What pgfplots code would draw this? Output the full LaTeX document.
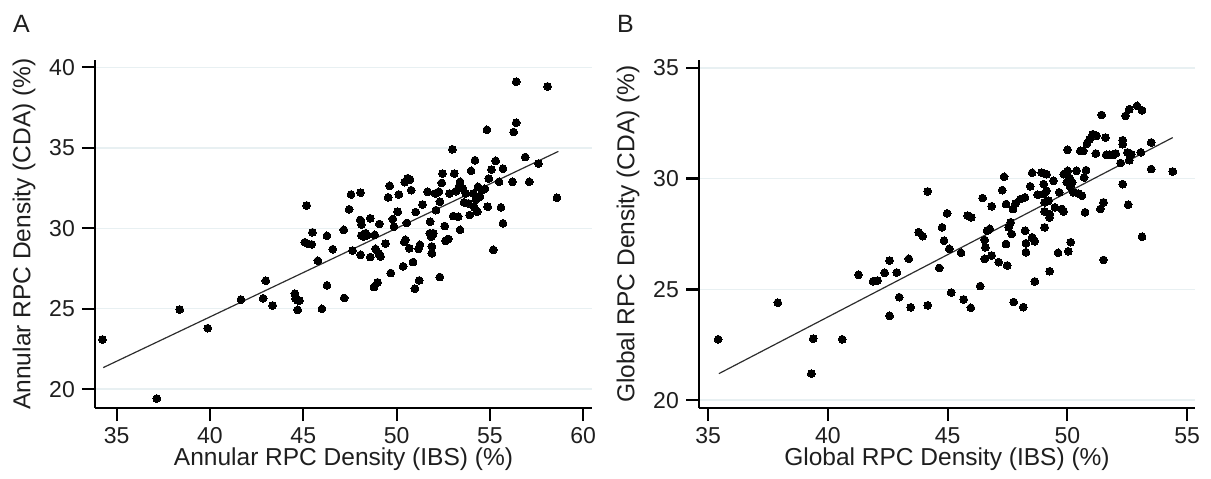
\documentclass[border=0pt]{standalone}
\usepackage{fontspec}
\setmainfont{Liberation Sans}
\usepackage{pgfplots}
\usepackage{pgfplotstable}
\pgfplotsset{compat=1.18}

\definecolor{gridc}{RGB}{232,240,242}
\definecolor{txt}{RGB}{30,30,30}
\definecolor{fitc}{RGB}{45,45,45}

% Annular RPC density, IBS vs CDA
\pgfplotstableread{
x y
34.24 23.09
37.15 19.42
38.38 24.95
39.88 23.79
41.66 25.57
42.99 26.74
42.85 25.65
43.36 25.20
44.55 25.94
44.59 25.63
44.70 25.52
44.80 25.50
44.70 24.93
45.18 31.42
45.08 29.13
45.25 29.03
45.45 29.00
45.49 29.75
45.78 27.98
46.00 24.99
46.27 29.53
46.27 26.45
46.58 28.70
47.17 29.90
47.19 25.67
47.46 31.18
47.56 32.10
47.64 28.62
48.07 32.21
48.05 30.52
48.11 30.23
48.11 29.55
48.07 28.35
48.22 29.48
48.34 29.69
48.42 29.57
48.59 30.62
48.59 28.21
48.83 29.59
48.87 28.72
49.04 28.45
49.08 30.27
48.79 26.35
48.98 26.64
49.14 28.25
49.41 29.05
49.55 31.92
49.63 32.64
49.69 27.22
49.80 30.58
49.86 30.10
50.06 31.03
50.12 32.10
50.35 27.63
50.43 32.87
50.55 30.33
50.41 29.15
50.47 29.28
50.59 33.11
50.72 33.03
50.68 28.76
50.78 32.37
50.88 27.90
51.02 31.01
50.98 26.25
51.17 28.72
51.25 28.97
51.21 26.76
51.39 31.48
51.66 32.27
51.80 30.41
51.78 29.69
51.86 29.48
51.89 28.87
51.89 28.45
51.97 29.69
52.07 32.16
52.11 31.13
52.27 32.27
52.32 31.65
52.32 26.97
52.42 32.82
52.46 33.40
52.58 30.14
52.62 29.22
52.77 29.34
52.83 32.16
52.99 34.91
53.03 30.76
53.09 33.40
53.18 32.31
53.30 30.72
53.34 32.58
53.40 29.90
53.40 32.89
53.55 32.47
53.61 31.61
53.71 32.16
53.85 31.55
53.91 30.82
53.99 33.57
54.12 32.16
54.16 31.30
54.20 34.23
54.26 31.79
54.32 31.03
54.36 32.58
54.47 31.96
54.57 32.37
54.73 32.45
54.84 36.12
54.88 31.34
54.94 33.09
55.08 33.65
55.18 28.66
55.31 34.19
55.49 32.89
55.59 31.30
55.70 33.71
55.70 30.31
56.21 32.89
56.27 35.98
56.41 36.56
56.41 39.11
56.89 34.43
57.11 32.89
57.60 34.02
58.09 38.82
58.59 31.90
}\annulartab

% Global RPC density, IBS vs CDA
\pgfplotstableread{
x y
35.42 22.75
37.91 24.40
39.39 22.78
39.31 21.20
40.60 22.75
41.28 25.66
41.89 25.37
42.08 25.40
42.37 25.75
42.58 26.30
42.58 23.81
42.88 25.76
42.98 24.65
43.38 26.38
43.46 24.19
43.79 27.58
43.96 27.40
44.17 29.42
44.17 24.28
44.65 25.97
44.77 27.80
44.85 27.20
44.98 28.43
45.07 26.83
45.15 24.86
45.56 26.65
45.67 24.55
45.84 28.33
45.99 28.25
45.97 24.17
46.36 25.15
46.46 29.12
46.55 27.23
46.58 26.90
46.55 26.38
46.65 27.65
46.76 27.73
46.84 28.75
46.84 26.53
47.13 26.23
47.28 29.48
47.36 30.08
47.44 28.85
47.44 27.05
47.49 26.08
47.55 27.80
47.63 28.03
47.68 27.50
47.73 28.63
47.76 24.43
47.84 28.88
48.05 29.08
48.16 24.20
48.23 29.15
48.24 27.65
48.27 27.08
48.27 26.68
48.45 29.65
48.53 30.26
48.53 27.35
48.64 27.17
48.64 25.36
48.76 29.27
48.93 30.27
49.01 29.75
49.01 29.30
49.05 28.93
49.05 28.52
49.05 27.80
49.13 30.20
49.13 29.45
49.21 29.00
49.26 28.40
49.26 28.25
49.26 25.82
49.42 29.90
49.48 28.70
49.61 26.65
49.66 29.38
49.77 28.63
49.84 28.52
49.85 30.20
49.98 29.83
50.01 31.30
50.01 30.35
50.04 26.72
50.09 30.03
50.12 29.63
50.14 27.13
50.20 29.83
50.25 29.38
50.38 30.35
50.46 29.33
50.54 31.25
50.61 29.23
50.66 31.25
50.70 30.05
50.74 28.48
50.78 30.38
50.82 31.58
50.93 31.78
51.06 32.00
51.19 31.13
51.22 31.93
51.38 28.63
51.43 32.87
51.51 28.93
51.51 26.33
51.59 31.85
51.62 31.07
51.78 31.07
51.94 31.07
52.02 31.13
52.22 30.70
52.31 31.73
52.31 31.55
52.31 29.75
52.43 32.83
52.51 31.18
52.54 28.82
52.59 33.13
52.59 30.83
52.67 31.10
52.91 33.28
53.07 31.18
53.12 33.08
53.12 27.38
53.50 30.43
53.50 31.63
54.40 30.32
}\globaltab

\pgfplotsset{
  stata/.style={
    scale only axis,
    anchor=south west,
    axis x line*=bottom,
    axis y line*=left,
    axis line style={-, line width=2.2pt, black},
    tick align=outside,
    major tick length=13pt,
    tick style={line width=2.2pt, black},
    ymajorgrids,
    major grid style={gridc, line width=1.5pt},
    /pgf/number format/assume math mode=true,
    tick label style={font=\fontsize{23}{26}\selectfont, text=txt},
    label style={font=\fontsize{24.5}{28}\selectfont, text=txt},
    xticklabel style={inner sep=0pt, anchor=north, yshift=-6pt},
    yticklabel style={inner sep=0pt, anchor=east, xshift=-7pt},
    xlabel style={at={(axis description cs:0.5,0)}, anchor=north, yshift=-40pt, inner sep=0pt},
    ylabel style={at={(axis description cs:0,0.5)}, anchor=center, yshift=71pt, inner sep=0pt},
    clip=false,
  },
  dots/.style={only marks, mark=*, mark size=3.9pt, mark options={fill=black, draw=black, line width=0pt}},
  fit/.style={fitc, line width=1.2pt, no marks},
}

\begin{document}
\begin{tikzpicture}
\useasboundingbox (0,0) rectangle (1211pt,479pt);

\node[anchor=base west, inner sep=0pt, font=\fontsize{25}{28}\selectfont, text=txt] at (13pt,446pt) {A};
\node[anchor=base west, inner sep=0pt, font=\fontsize{25}{28}\selectfont, text=txt] at (617pt,446pt) {B};

\begin{axis}[stata,
    at={(95pt,71pt)},
    width=497pt, height=348pt,
    xmin=33.84, xmax=60.47,
    ymin=18.83, ymax=40.46,
    xtick={35,40,45,50,55,60},
    ytick={20,25,30,35,40},
    xlabel={Annular RPC Density (IBS) (\%)},
    ylabel={Annular RPC Density (CDA) (\%)},
]
\addplot[dots] table {\annulartab};
\addplot[fit] coordinates {(34.28,21.34) (58.67,34.78)};
\end{axis}

\begin{axis}[stata,
    at={(699pt,71pt)},
    width=496pt, height=348pt,
    xmin=34.62, xmax=55.33,
    ymin=19.65, ymax=35.35,
    xtick={35,40,45,50,55},
    ytick={20,25,30,35},
    xlabel={Global RPC Density (IBS) (\%)},
    ylabel={Global RPC Density (CDA) (\%)},
]
\addplot[dots] table {\globaltab};
\addplot[fit] coordinates {(35.45,21.20) (54.40,31.85)};
\end{axis}
\end{tikzpicture}
\end{document}
